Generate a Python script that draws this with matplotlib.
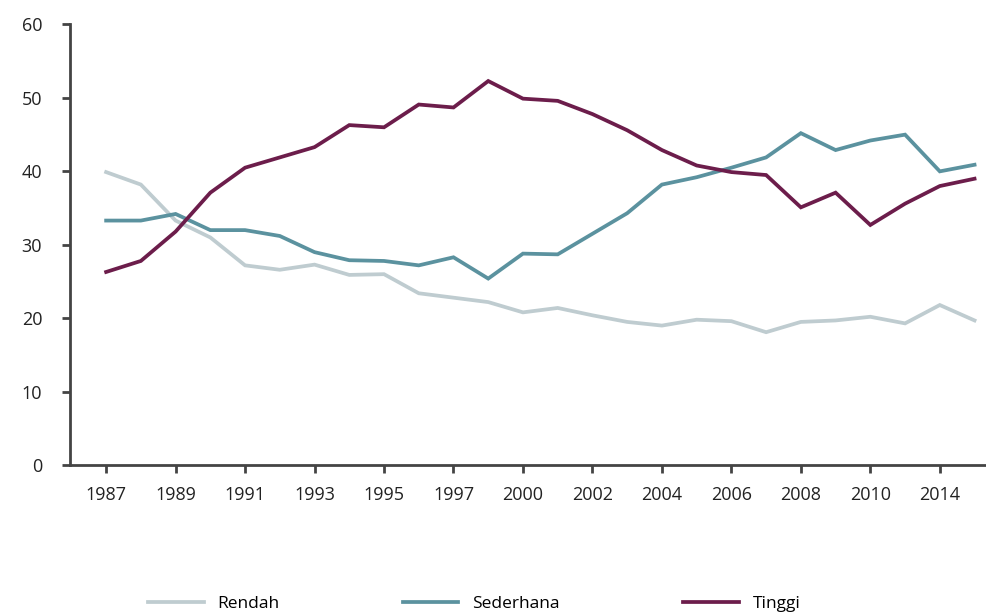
import numpy as np
import matplotlib
matplotlib.use("Agg")
import matplotlib.pyplot as plt

plt.rcParams['font.family'] = ['Open Sans', 'DejaVu Sans']

# years (1999 not in the data)
years = ['1987', '1988', '1989', '1990', '1991', '1992', '1993', '1994', '1995', '1996',
         '1997', '1998', '2000', '2001', '2002', '2003', '2004', '2005', '2006', '2007',
         '2008', '2009', '2010', '2012', '2014', '2015']

rendah = [39.9, 38.2, 33.3, 31.0, 27.2, 26.6, 27.3, 25.9, 26.0, 23.4,
          22.8, 22.2, 20.8, 21.4, 20.4, 19.5, 19.0, 19.8, 19.6, 18.1,
          19.5, 19.7, 20.2, 19.3, 21.8, 19.7]
sederhana = [33.3, 33.3, 34.2, 32.0, 32.0, 31.2, 29.0, 27.9, 27.8, 27.2,
             28.3, 25.4, 28.8, 28.7, 31.5, 34.3, 38.2, 39.2, 40.5, 41.9,
             45.2, 42.9, 44.2, 45.0, 40.0, 40.9]
tinggi = [26.3, 27.8, 31.8, 37.1, 40.5, 41.9, 43.3, 46.3, 46.0, 49.1,
          48.7, 52.3, 49.9, 49.6, 47.8, 45.6, 42.9, 40.8, 39.9, 39.5,
          35.1, 37.1, 32.7, 35.6, 38.0, 39.0]

names = ['Rendah', 'Sederhana', 'Tinggi']
colors = ['#BFCCD0', '#5B929F', '#6C1D4B']

fig = plt.figure(figsize=(9.86, 6.12), dpi=100)
ax = fig.add_axes([0.071, 0.24, 0.929, 0.72])

x = np.arange(len(years))
for vals, name, c in zip([rendah, sederhana, tinggi], names, colors):
    ax.plot(x, vals, color=c, lw=2.7, label=name, solid_joinstyle='miter')

ax.set_ylim(0, 60)
ax.set_yticks(np.arange(0, 61, 10))
ax.set_xlim(-1.04, 25.33)
ax.set_xticks(x[::2])
ax.set_xticklabels(years[::2])

for s in ['top', 'right']:
    ax.spines[s].set_visible(False)
for s in ['left', 'bottom']:
    ax.spines[s].set_color('#444444')
    ax.spines[s].set_linewidth(2)
ax.tick_params(axis='both', colors='#444444', width=2, length=6, labelsize=13,
               labelcolor='#222222')
ax.tick_params(axis='x', pad=9)
ax.tick_params(axis='y', pad=14)

fig.legend(loc='lower center', bbox_to_anchor=(0.481, -0.025), ncol=3, frameon=False,
           fontsize=12.5, handlelength=3.2, columnspacing=7.1, handletextpad=0.8)

fig.savefig('out.png', dpi=100)
